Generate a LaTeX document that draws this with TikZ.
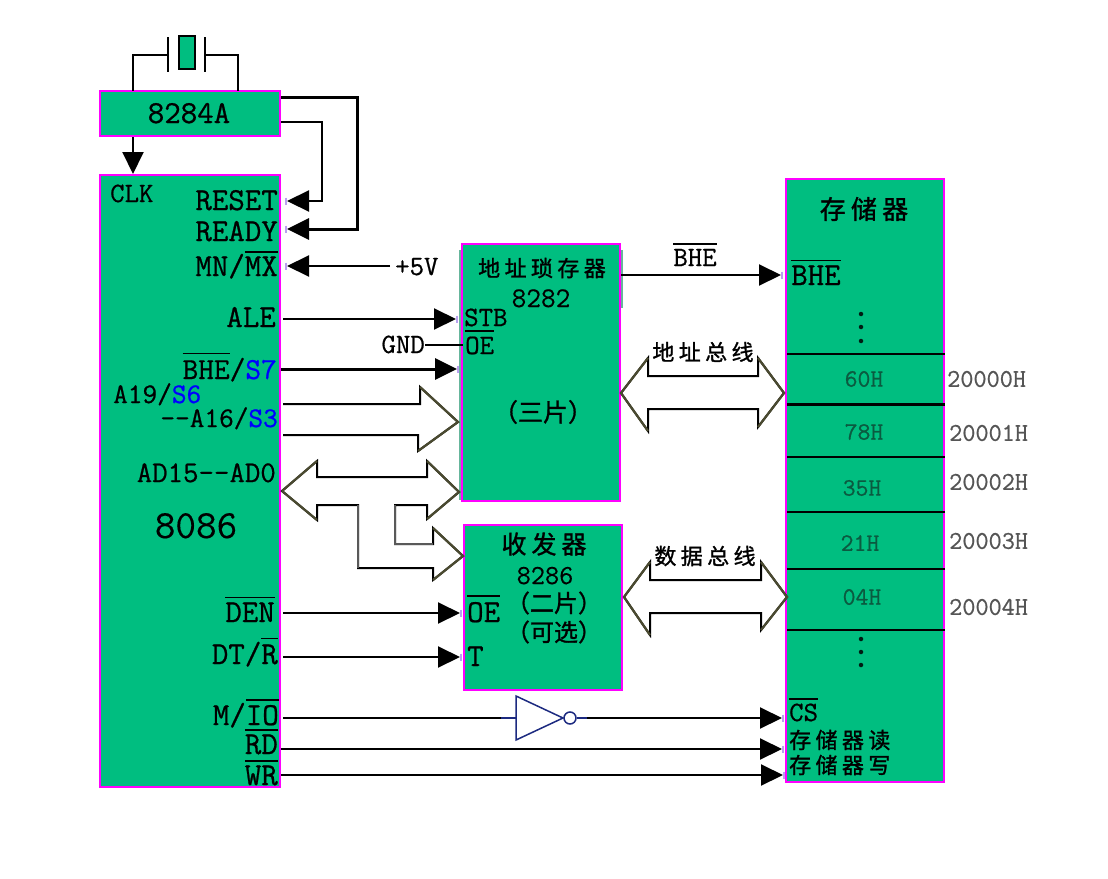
\documentclass[tikz,border=0pt]{standalone}
\usepackage{fontspec}
\usetikzlibrary{arrows.meta}
\newfontfamily\monob[FakeBold=0.7,Ligatures=NoCommon]{Latin Modern Mono}
\newfontfamily\monot[FakeBold=0.25]{Latin Modern Mono}
\newfontfamily\cjkf[LetterSpace=20,FakeBold=1.2]{Noto Sans CJK SC}
\newfontfamily\cjkp[FakeBold=1.2]{Noto Sans CJK SC}
\newcommand\fsz[1]{\fontsize{#1pt}{#1pt}\selectfont}
\newcommand\ol[2][3]{\leavevmode\vbox{\hrule height 1.8pt \kern #1pt \hbox{#2}}}
\definecolor{boxg}{HTML}{00BE80}
\definecolor{magen}{HTML}{FF00FF}
\definecolor{sblue}{HTML}{0000FF}
\definecolor{navyg}{HTML}{1C2A80}
\definecolor{lilac}{HTML}{B9A0F0}
\definecolor{busedge}{HTML}{4A4A30}
\definecolor{dat}{HTML}{0B5A40}
\definecolor{adr}{HTML}{555555}
\newcommand\sbl[1]{\textcolor{sblue}{#1}}
\tikzset{
  x=1pt,y=-1pt,
  blockbox/.style={draw=magen,fill=boxg,line width=2.4pt,inner sep=0pt},
  lbl/.style={inner sep=0pt,font=\monob\fsz{32},text=black},
  lblm/.style={inner sep=0pt,font=\monob\fsz{28},text=black},
  cn/.style={inner sep=0pt,font=\cjkf\fsz{22},text=black},
  datum/.style={inner sep=0pt,font=\monob\fsz{25},text=dat},
  addr/.style={inner sep=0pt,font=\monob\fsz{25.5},text=adr},
  wire/.style={draw=black,line width=2pt},
  wirebold/.style={draw=black,line width=3pt},
  sig/.style={wire,-{Triangle[length=22pt,width=21pt]}},
  sigbold/.style={wirebold,-{Triangle[length=22pt,width=21pt]}},
  bus/.style={draw=black,fill=white,line width=2pt,line join=miter},
  busslant/.style={draw=busedge,line width=2.2pt},
  cell/.style={draw=black,line width=2pt},
  pintick/.style={draw=lilac,line width=2.2pt},
  gate/.style={draw=navyg,line width=1.5pt,fill=white},
  gatewire/.style={draw=navyg,line width=1.5pt},
  memdot/.style={fill=black!85!boxg,circle,inner sep=0pt,minimum size=4.5pt},
}
\begin{document}
\begin{tikzpicture}
\useasboundingbox[fill=white] (0,0) rectangle (1108,878);

% blocks
\draw[pintick,draw=black!30!boxg!60!white] (460,250) -- (460,500) (622,250) -- (622,308);
\node[blockbox,minimum width=180pt,minimum height=45pt] (clkgen) at (190,113.5) {};
\node[blockbox,minimum width=180pt,minimum height=612pt] (cpu) at (190,481) {};
\node[blockbox,minimum width=158pt,minimum height=257pt] (latch) at (541,372.5) {};
\node[blockbox,minimum width=158pt,minimum height=165pt] (xcvr) at (543,607.5) {};
\node[blockbox,minimum width=158pt,minimum height=603pt] (mem) at (865,480.5) {};

% crystal
\node[draw=black,fill=boxg,line width=2pt,minimum width=16pt,minimum height=33pt,inner sep=0pt] (xtal) at (186.5,52) {};
\coordinate (platel) at (168,55);
\coordinate (plater) at (205,55);
\draw[line width=1.7pt] (168,37) -- (168,72) (205,37) -- (205,72);
\coordinate (xl) at (133,91);
\coordinate (xr) at (238,91);
\draw[wire] (xl) |- (platel);
\draw[wire] (xr) |- (plater);

% clock generator outputs
\coordinate (o1) at (281,97);
\coordinate (o2) at (281,122);
\coordinate (ready-i) at (287,229);
\coordinate (reset-i) at (287,201);
\coordinate (mnmx-i) at (287,266);
\coordinate (clk-o) at (133,137);
\coordinate (clk-i) at (133,174);
\draw[sigbold] (o1) -- (357,97) |- (ready-i);
\draw[sig,line width=2.2pt] (o2) -- (322,122) |- (reset-i);
\draw[sig] (clk-o) -- (clk-i);

% +5V
\node[lblm,anchor=base west] (vcc) at (395,275) {+5V};
\coordinate (vcc-o) at (390,266);
\draw[sig] (vcc-o) -- (mnmx-i);

% buses
\draw[bus] (283,404) -- (420,404) -- (420,387) -- (458,422) -- (418,451) -- (418,435) -- (283,435);
\draw[bus] (282,491) -- (317,461) -- (317,477) -- (427,477) -- (427,461) -- (459,492) -- (427,519) -- (427,505) -- (395,505) -- (395,544) -- (433,544) -- (433,528) -- (463,556) -- (433,580) -- (433,568) -- (358,568) -- (358,505) -- (317,505) -- (317,520) -- cycle;
\draw[busslant] (420,387) -- (458,422) -- (418,451)
  (282,491) -- (317,461) (282,491) -- (317,520)
  (427,461) -- (459,492) -- (427,519)
  (433,528) -- (463,556) -- (433,580);
\draw[draw=black!65,line width=2.6pt] (358,505) -- (358,568) (395,505) -- (395,544) -- (433,544);
\draw[bus] (621,393) -- (648,358) -- (648,376) -- (758,376) -- (758,358) -- (784,393) -- (758,427) -- (758,409) -- (648,409) -- (648,431) -- cycle;
\draw[busslant] (648,358) -- (621,393) -- (648,431) (758,358) -- (784,393) -- (758,427);
\draw[bus] (624,597) -- (650,562) -- (650,580) -- (761,580) -- (761,562) -- (787,597) -- (761,630) -- (761,613) -- (650,613) -- (650,635) -- cycle;
\draw[busslant] (650,562) -- (624,597) -- (650,635) (761,562) -- (787,597) -- (761,630);

% signal connectors
\coordinate (ale-o) at (283,319); \coordinate (stb-i) at (456,319);
\coordinate (bhe-o) at (281,369); \coordinate (bhe-i) at (457,369);
\coordinate (gnd-o) at (425,345); \coordinate (oe-i) at (463,345);
\coordinate (lbhe-o) at (621,275); \coordinate (mbhe-i) at (781,275);
\coordinate (den-o) at (283,613); \coordinate (xoe-i) at (460,613);
\coordinate (dtr-o) at (283,657); \coordinate (xt-i) at (460,657);
\coordinate (mio-o) at (283,718); \coordinate (cs-i) at (782,718);
\coordinate (rd-o) at (281,749); \coordinate (rd-i) at (782,749);
\coordinate (wr-o) at (281,775); \coordinate (wr-i) at (783,775);
\draw[sig] (ale-o) -- (stb-i);
\draw[wire] (gnd-o) -- (oe-i);
\draw[sigbold] (bhe-o) -- (bhe-i);
\draw[sig] (lbhe-o) -- (mbhe-i);
\draw[sig] (den-o) -- (xoe-i);
\draw[sig] (dtr-o) -- (xt-i);
\draw[sig] (rd-o) -- (rd-i);
\draw[sig] (wr-o) -- (wr-i);

% inverter
\coordinate (g-in) at (501,718);
\coordinate (g-out) at (587,718);
\draw[wire] (mio-o) -- (g-in);
\draw[sig] (g-out) -- (cs-i);
\draw[gatewire] (g-in) -- (516,718) (577,718) -- (g-out);
\draw[gate] (516,696) -- (516,740) -- (563,718) -- cycle;
\node[gate,circle,minimum size=12pt,inner sep=0pt] (bubble) at (570,718) {};

% lilac pin ticks
\foreach \p in {reset-i,ready-i,mnmx-i}{\draw[pintick] (\p) ++(-1,-3.5) -- ++(0,7);}
\foreach \p in {stb-i,bhe-i,mbhe-i,xoe-i,xt-i,cs-i,rd-i,wr-i}{\draw[pintick] (\p) ++(1,-3.5) -- ++(0,7);}

% memory cells
\foreach \y/\w in {354/2,457/2,512/2,569/2,630/2,404/3}{\draw[cell,line width=\w pt] (787,\y) -- (945,\y);}
\foreach \y in {314,327,341,639,652,665}{\node[memdot] at (861,\y) {};}

% clock generator / crystal labels
\node[lbl,anchor=base] (t8284) at (189,123) {8284A};

% 8086 labels
\node[lblm,anchor=base west] (tclk) at (110,202) {CLK};
\node[lbl,anchor=base east] (treset) at (278,210) {RESET};
\node[lbl,anchor=base east] (tready) at (278,241) {READY};
\node[lbl,anchor=base east] (tmn) at (278,276) {MN/\ol[3.5]{MX}};
\node[lbl,anchor=base east] (tale) at (276,327) {ALE};
\node[lblm,anchor=base east] (tgnd) at (425,353) {GND};
\node[inner sep=0pt,anchor=base east,font=\monob\fsz{30.5}] (tbhe) at (277,379) {\ol[6]{BHE}/\sbl{S7}};
\node[inner sep=0pt,anchor=base west,font=\monob\fsz{28.5}] (ta19) at (113,403) {A19/\sbl{S6}};
\node[inner sep=0pt,anchor=base east,font=\monob\fsz{28.5}] (ta16) at (278,427) {--A16/\sbl{S3}};
\node[inner sep=0pt,anchor=base east,font=\monob\fsz{30}] (tad) at (276,482) {AD15--AD0};
\node[inner sep=0pt,anchor=base,font=\monot\fsz{40}] (t8086) at (196,538) {8086};
\node[lbl,anchor=base east] (tden) at (275,622) {\ol[4]{DEN}};
\node[lbl,anchor=base east] (tdtr) at (278,664) {DT/\ol[5]{R}};
\node[lbl,anchor=base east] (tmio) at (279,725) {M/\ol[4]{IO}};
\node[lbl,anchor=base east] (trd) at (278,754) {\ol[3.5]{RD}};
\node[lbl,anchor=base east] (twr) at (278,785) {\ol[3.5]{WR}};

% 8282 labels
\node[cn,anchor=center] (tlatch) at (542,268) {地址琐存器};
\node[inner sep=0pt,anchor=base,font=\monot\fsz{28.5}] (t8282) at (541,307) {8282};
\node[lblm,anchor=base west] (tstb) at (464,326) {STB};
\node[lblm,anchor=base west] (toe) at (465,354) {\ol[5]{OE}};
\node[cn,anchor=center,font=\cjkp\fsz{25}] (tthree) at (543,412) {（三片）};
\node[lblm,anchor=base] (tbhe2) at (695,266) {\ol[4]{BHE}};
\node[cn,anchor=center] (taddr) at (703,352) {地址总线};

% 8286 labels
\node[cn,anchor=center,font=\cjkf\fsz{25}] (txcvr) at (544,544) {收发器};
\node[inner sep=0pt,anchor=base,font=\monot\fsz{27.5}] (t8286) at (545,584) {8286};
\node[cn,anchor=center,font=\cjkp\fsz{24}] (ttwo) at (554,603) {（二片）};
\node[cn,anchor=center,font=\cjkp\fsz{24}] (topt) at (554,632) {（可选）};
\node[lbl,anchor=base west] (toe2) at (467,622) {\ol[5]{OE}};
\node[lbl,anchor=base west] (tt) at (467,666) {T};
\node[cn,anchor=center] (tdata) at (705,556) {数据总线};

% memory labels
\node[cn,anchor=center,font=\cjkf\fsz{26}] (tmem) at (864,209) {存储器};
\node[lbl,anchor=base west] (tmbhe) at (791,285) {\ol[4]{BHE}};
\node[datum] (d0) at (864,379) {60H};
\node[datum] (d1) at (864,432) {78H};
\node[datum] (d2) at (862,488) {35H};
\node[datum] (d3) at (860,543) {21H};
\node[datum] (d4) at (862,597) {04H};
\node[addr,anchor=west] (a0) at (947,379) {20000H};
\node[addr,anchor=west] (a1) at (949,433) {20001H};
\node[addr,anchor=west] (a2) at (949,482) {20002H};
\node[addr,anchor=west] (a3) at (949,541) {20003H};
\node[addr,anchor=west] (a4) at (949,607) {20004H};
\node[lblm,anchor=base west] (tcs) at (789,721) {\ol[4]{CS}};
\node[cn,anchor=west] (trdm) at (789,740) {存储器读};
\node[cn,anchor=west] (twrm) at (789,765) {存储器写};
\end{tikzpicture}
\end{document}
